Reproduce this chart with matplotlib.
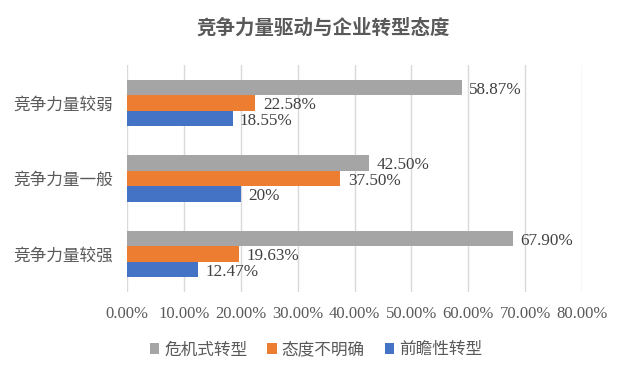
import matplotlib.pyplot as plt
import numpy as np

categories = ["竞争力量较强", "竞争力量一般", "竞争力量较弱"]
series_names = ["前瞻性转型", "态度不明确", "危机式转型"]
forward = [12.47, 20, 18.55]
unclear = [19.63, 37.50, 22.58]
crisis = [67.90, 42.50, 58.87]
colors = ["#4472C4", "#ED7D31", "#A5A5A5"]
x_ticks = [0, 10, 20, 30, 40, 50, 60, 70, 80]

CJK = ["Noto Sans CJK SC", "DejaVu Sans"]
NUM = ["Liberation Serif", "Noto Sans CJK SC"]


def fmt(v):
    return f"{v:g}%" if float(v).is_integer() else f"{v:.2f}%"


fig = plt.figure(figsize=(6.32, 3.75), dpi=100)
ax = fig.add_axes([0.201, 0.222, 0.72, 0.604])

y = np.arange(len(categories))
h = 0.207
offsets = [-h, 0, h]
bars = []
for vals, name, color, off in zip([forward, unclear, crisis], series_names, colors, offsets):
    b = ax.barh(y + off, vals, height=h, color=color, label=name, zorder=3)
    bars.append(b)
    for yi, v in zip(y, vals):
        ax.text(v + 1.3, yi + off - 0.03, fmt(v), va="center", ha="left",
                fontsize=12.3, family=NUM, color="#404040")

ax.set_xlim(0, 80)
ax.set_ylim(-0.5, 2.5)
ax.set_xticks(x_ticks)
ax.set_xticklabels([f"{t:.2f}%" for t in x_ticks], family=NUM, fontsize=12, color="#595959")
ax.set_yticks(y)
ax.set_yticklabels(categories, family=CJK, fontsize=12, color="#595959")
ax.tick_params(length=0)
ax.tick_params(axis="x", pad=10)
ax.tick_params(axis="y", pad=10)
ax.grid(axis="x", color="#D9D9D9", linewidth=1, zorder=0)
for s in ax.spines.values():
    s.set_visible(False)

fig.text(0.512, 0.925, "竞争力量驱动与企业转型态度", ha="center", va="center",
         family=CJK, fontsize=14, fontweight="bold", color="#595959")

handles = [bars[2], bars[1], bars[0]]
leg = fig.legend(handles, [series_names[2], series_names[1], series_names[0]],
                 loc="center", bbox_to_anchor=(0.5, 0.067), ncol=3, frameon=False,
                 handlelength=0.55, handleheight=0.55, handletextpad=0.3, columnspacing=1.2,
                 prop={"family": CJK, "size": 12})
for t in leg.get_texts():
    t.set_color("#595959")

fig.savefig("out.png", dpi=100)
